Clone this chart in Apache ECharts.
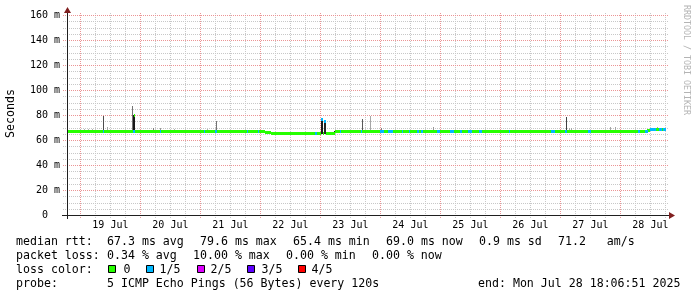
<!DOCTYPE html>
<html><head><meta charset="utf-8">
<script src="https://cdn.jsdelivr.net/npm/echarts@6/dist/echarts.min.js"></script>
<style>html,body{margin:0;padding:0;background:#fff}#c{width:697px;height:297px}</style>
</head><body><div id="c"></div>
<script>
// ---------- DATA (time = hours since 18 Jul 2025 00:00) ----------
const xStartHour = 18.64;
const xEndHour = 258.64;
const dayLabels = ['19 Jul','20 Jul','21 Jul','22 Jul','23 Jul','24 Jul','25 Jul','26 Jul','27 Jul','28 Jul'];
const yTickLabels = ['0  ','20 m','40 m','60 m','80 m','100 m','120 m','140 m','160 m'];
const yMax = 160;

// median rtt (ms): value holds from its start hour until the next start
const medianStart = [18.6, 23.4, 25.0, 30.6, 33.0, 45.4, 45.8, 95.4, 97.8, 100.2, 120.2, 121.0, 121.4, 122.2, 125.8, 250.6, 251.8];
const medianValue = [67.0, 66.6, 67.0, 66.6, 67.0, 79.6, 67.0, 66.6, 66.0, 65.3, 76.6, 65.3, 74.6, 65.3, 67.0, 67.8, 68.5];
const medianEnd = 258.2;

// packet loss periods (pings lost out of 5)
const lossStart = [33.0, 45.0, 55.8, 73.4, 77.8, 90.6, 95.0, 117.8, 120.2, 121.4, 127.8, 136.2, 143.8, 147.0, 152.6, 155.4, 158.6, 160.2, 166.6, 171.8, 175.8, 179.0, 183.4, 195.4, 212.2, 217.8, 227.0, 247.0, 249.8, 251.8, 255.4, 257.0];
const lossEnd   = [33.4, 45.8, 56.2, 73.8, 78.6, 91.0, 95.4, 118.6, 121.0, 122.2, 128.2, 136.6, 145.4, 149.0, 153.0, 155.8, 159.4, 161.0, 167.8, 173.4, 176.6, 180.6, 184.6, 195.8, 213.8, 218.6, 228.2, 247.8, 251.0, 254.2, 256.6, 258.2];
const lossCount = [1,1,1,1,1,1,1,1,1,1,1,1,1,1,1,1,1,1,1,1,1,1,1,1,1,1,1,1,1,1,1,1];

// smoke (spread of the 5 pings) at single steps
const smokeHour  = [23.8, 25.4, 27.0, 28.6, 33.0, 34.6, 44.6, 45.0, 45.4, 53.0, 55.8, 61.4, 71.8, 74.6, 78.2, 120.2, 120.6, 121.4, 121.8, 125.4, 136.6, 139.8, 144.2, 165.0, 218.2, 219.4, 220.2, 235.8, 237.8, 250.6, 254.6, 255.8];
const smokeHigh  = [68.8, 68.8, 68.8, 68.8, 79.4, 70.4, 87.2, 80.0, 79.6, 69.3, 69.3, 68.8, 68.8, 68.8, 75.5, 76.6, 76.6, 74.6, 74.6, 67.5, 76.8, 79.4, 69.3, 70.4, 78.6, 69.6, 69.3, 70.4, 70.4, 69.0, 70.4, 70.0];
const smokeLow   = [67.0, 67.0, 67.0, 67.0, 67.0, 67.0, 67.0, 67.0, 67.0, 67.0, 67.0, 67.0, 67.0, 67.0, 67.0, 65.0, 65.0, 65.0, 65.0, 65.0, 67.0, 67.0, 67.0, 67.0, 67.0, 67.0, 67.0, 67.0, 67.0, 67.0, 68.5, 68.5];
const smokeShade = [0.3, 0.3, 0.3, 0.3, 0.7, 0.35, 0.55, 0.9, 0.9, 0.5, 0.4, 0.3, 0.3, 0.3, 0.55, 0.9, 0.9, 0.85, 0.85, 0.9, 0.65, 0.35, 0.5, 0.4, 0.75, 0.35, 0.35, 0.35, 0.35, 0.8, 0.35, 0.35];

const lossLegend = ['0','1/5','2/5','3/5','4/5'];
const lossColors = ['#26ff00','#00b8ff','#dd00ff','#5e00ff','#ff0000'];

const statLine1 = [['median rtt:',16],['67.3 ms avg',107],['79.6 ms max',200],['65.4 ms min',293],['69.0 ms now',386],['0.9 ms sd',479],['71.2   am/s',558]];
const statLine2 = [['packet loss:',16],['0.34 % avg',107],['10.00 % max',193],['0.00 % min',286],['0.00 % now',372]];
const statLine4 = [['probe:',16],['5 ICMP Echo Pings (56 Bytes) every 120s',107],['end: Mon Jul 28 18:06:51 2025',478]];

// ---------- LAYOUT / STYLE ----------
const PL = 67, PT = 15, PW = 600, PH = 200;
const pxPerHour = PW / (xEndHour - xStartHour);
const GRID = '#c8c8c8', MGRID = '#eb9595', AXIS = '#1f1f1f', ARROW = '#801f1f';
const MONO = '"DejaVu Sans Mono", monospace';

// grid line positions derived from the axis ranges
const gridData = [];
for (let h = 24; h <= xEndHour; h += 6) if (h % 24 !== 0) gridData.push([0, h, 0]);
for (let v = 5; v <= yMax; v += 5) if (v % 20 !== 0) gridData.push([1, v, 0]);
for (let h = 24; h <= xEndHour; h += 24) gridData.push([0, h, 1]);
for (let v = 20; v <= yMax; v += 20) gridData.push([1, v, 1]);

function medianAt(t) {
  let v = medianValue[0];
  for (let i = 0; i < medianStart.length; i++) if (medianStart[i] <= t + 1e-6) v = medianValue[i];
  return v;
}
const medianData = medianStart.map((s, i) => [s, i + 1 < medianStart.length ? medianStart[i + 1] : medianEnd, medianValue[i], 0]);
const lossData = lossStart.map((s, i) => [s, lossEnd[i], medianAt(s), lossCount[i]]);
const smokeData = smokeHour.map((h, i) => [h, h + 0.4, smokeHigh[i], smokeLow[i], smokeShade[i]]);

function gridItem(params, api) {
  const kind = Number(api.value(0)), v = Number(api.value(1)), major = Number(api.value(2)) === 1;
  let shape;
  if (kind === 0) {
    const p = api.coord([v, 0]), q = api.coord([v, yMax]);
    const x = Math.round(p[0]) + 0.5;
    shape = { x1: x, y1: Math.round(p[1]) + 3, x2: x, y2: Math.round(q[1]) - 2 };
  } else {
    const p = api.coord([xStartHour, v]), q = api.coord([xEndHour, v]);
    const y = Math.round(p[1]) + 0.5;
    shape = { x1: Math.round(p[0]) - 4, y1: y, x2: Math.round(q[0]) + 2, y2: y };
  }
  return { type: 'line', shape: shape, z2: major ? 2 : 1,
           style: { stroke: major ? MGRID : GRID, lineWidth: 1, lineDash: [1, 1], fill: null } };
}
function bandItem(params, api) {
  const a = api.coord([api.value(0), api.value(2)]);
  const b = api.coord([api.value(1), api.value(2)]);
  const x0 = Math.round(a[0]), x1 = Math.round(b[0]);
  return { type: 'rect', shape: { x: x0, y: Math.round(a[1] - 1.5), width: Math.max(1, x1 - x0), height: 3 },
           style: { fill: lossColors[api.value(3)] } };
}
function smokeItem(params, api) {
  const a = api.coord([api.value(0), api.value(2)]);
  const b = api.coord([api.value(1), api.value(3)]);
  const x0 = Math.round(a[0]), x1 = Math.round(b[0]);
  const g = Math.round(255 * (1 - api.value(4)));
  return { type: 'rect', shape: { x: x0, y: Math.round(a[1]), width: Math.max(1, x1 - x0), height: Math.round(b[1]) - Math.round(a[1]) },
           style: { fill: 'rgb(' + g + ',' + g + ',' + g + ')' } };
}

const chart = echarts.init(document.getElementById('c'), null, { renderer: 'canvas' });

const gfx = [];
function addText(str, x, y) {
  gfx.push({ type: 'text', x: x, y: y, silent: true,
    style: { text: str, font: '11.6px ' + MONO, fill: '#000', align: 'left', verticalAlign: 'middle' } });
}
statLine1.forEach(p => addText(p[0], p[1], 242));
statLine2.forEach(p => addText(p[0], p[1], 256));
addText('loss color:', 16, 270);
const sqX = [108, 146, 197, 247, 298];
const lbX = [123.5, 159.5, 210.5, 261.5, 311.5];
lossLegend.forEach((l, i) => {
  gfx.push({ type: 'rect', silent: true, shape: { x: sqX[i] + 0.5, y: 265.5, width: 7, height: 7 },
             style: { fill: lossColors[i], stroke: '#000', lineWidth: 1 } });
  addText(l, lbX[i], 270);
});
statLine4.forEach(p => addText(p[0], p[1], 284));
gfx.push({ type: 'text', x: 11, y: 113.5, rotation: Math.PI / 2, silent: true,
  style: { text: 'Seconds', font: '11.6px ' + MONO, fill: '#000', align: 'center', verticalAlign: 'middle' } });
gfx.push({ type: 'text', x: 686, y: 5, rotation: -Math.PI / 2, silent: true,
  style: { text: 'RRDTOOL / TOBI OETIKER', font: '8.3px ' + MONO, fill: '#b4b4b4', align: 'left', verticalAlign: 'middle' } });
gfx.push({ type: 'line', silent: true, z: 10, shape: { x1: 62, y1: 215.5, x2: 670, y2: 215.5 }, style: { stroke: AXIS, lineWidth: 1 } });
gfx.push({ type: 'line', silent: true, z: 10, shape: { x1: 67.5, y1: 219, x2: 67.5, y2: 12 }, style: { stroke: AXIS, lineWidth: 1 } });
gfx.push({ type: 'polygon', silent: true, z: 10, shape: { points: [[669, 212], [675, 215.5], [669, 219]] }, style: { fill: ARROW } });
gfx.push({ type: 'polygon', silent: true, z: 10, shape: { points: [[64, 13], [67.5, 7], [71, 13]] }, style: { fill: ARROW } });

chart.setOption({
  animation: false,
  backgroundColor: '#fff',
  grid: [
    { left: PL, top: PT, width: PW, height: PH, outerBoundsMode: 'none' },
    { left: PL + (36 - xStartHour) * pxPerHour, width: 216 * pxPerHour, top: PT, height: PH, outerBoundsMode: 'none' }
  ],
  xAxis: [
    { gridIndex: 0, type: 'value', min: xStartHour, max: xEndHour,
      axisLine: { show: false }, axisTick: { show: false }, axisLabel: { show: false }, splitLine: { show: false } },
    // day labels centred at noon: axis value = hours since 18 Jul 12:00
    { gridIndex: 1, type: 'value', min: 24, max: 240, interval: 24,
      axisLine: { show: false }, axisTick: { show: false }, splitLine: { show: false },
      axisLabel: { show: true, margin: 5, color: '#000', fontFamily: MONO, fontSize: 10,
        showMinLabel: true, showMaxLabel: true,
        formatter: v => dayLabels[Math.round((v - 24) / 24)] || '' } }
  ],
  yAxis: [
    { gridIndex: 0, type: 'value', min: 0, max: yMax, interval: 20,
      axisLine: { show: false }, axisTick: { show: false },
      axisLabel: { margin: 7, color: '#000', fontFamily: MONO, fontSize: 10,
        formatter: v => yTickLabels[Math.round(v / 20)] },
      splitLine: { show: false }, minorSplitLine: { show: false } },
    { gridIndex: 1, type: 'value', min: 0, max: 1, show: false }
  ],
  series: [
    { type: 'custom', name: 'grid', xAxisIndex: 0, yAxisIndex: 0, z: 1, silent: true, clip: false,
      data: gridData, encode: { x: 1, y: 1 }, renderItem: gridItem },
    { type: 'custom', name: 'smoke', xAxisIndex: 0, yAxisIndex: 0, z: 2, silent: true,
      data: smokeData, encode: { x: [0, 1], y: [2, 3] }, renderItem: smokeItem },
    { type: 'custom', name: 'median', xAxisIndex: 0, yAxisIndex: 0, z: 3, silent: true,
      data: medianData, encode: { x: [0, 1], y: 2 }, renderItem: bandItem },
    { type: 'custom', name: 'loss', xAxisIndex: 0, yAxisIndex: 0, z: 4, silent: true,
      data: lossData, encode: { x: [0, 1], y: 2 }, renderItem: bandItem }
  ],
  graphic: gfx
});
</script></body></html>
